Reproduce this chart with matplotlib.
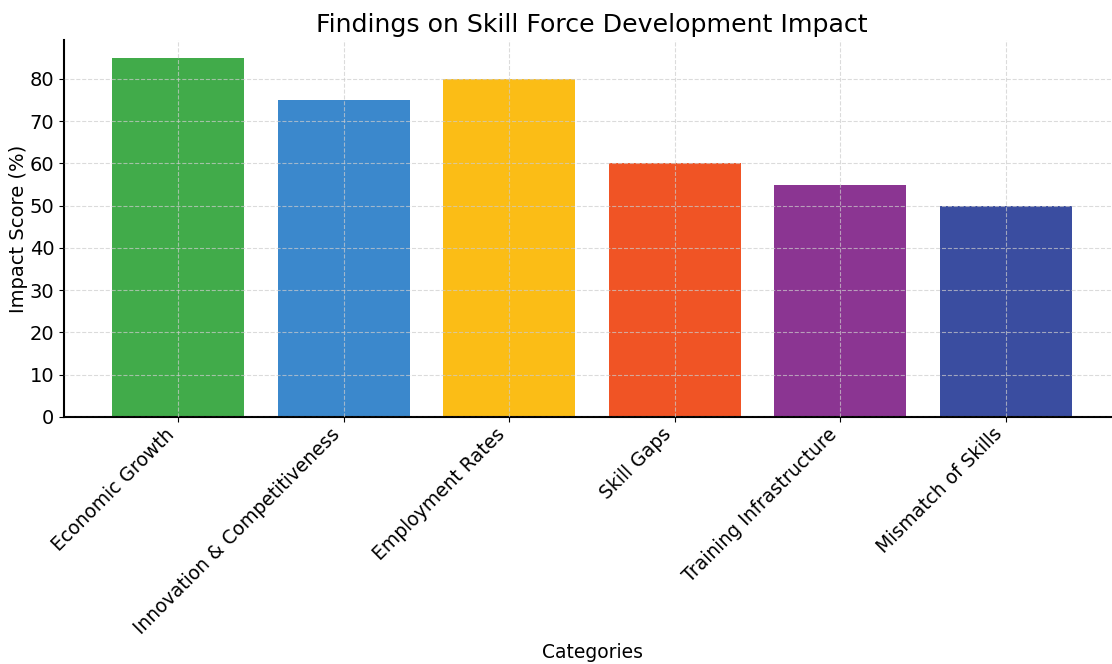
import matplotlib
matplotlib.use("Agg")
import matplotlib.pyplot as plt

categories = ["Economic Growth", "Innovation & Competitiveness", "Employment Rates",
              "Skill Gaps", "Training Infrastructure", "Mismatch of Skills"]
values = [85, 75, 80, 60, 55, 50]
colors = ["#41AB4A", "#3B88CC", "#FBBD16", "#F05425", "#8B3592", "#3A4DA0"]

fig = plt.figure(figsize=(11.12, 6.64), dpi=100)
ax = fig.add_axes([0.0576, 0.372, 0.9496, 0.568])
ax.bar(range(len(categories)), values, color=colors, width=0.8, zorder=1)
ax.set_xticks(range(len(categories)))
ax.set_xticklabels(categories, rotation=45, ha="right", rotation_mode="default", fontsize=13.5)
ax.tick_params(axis="x", pad=2)
ax.tick_params(axis="y", labelsize=14)
ax.set_title("Findings on Skill Force Development Impact", fontsize=18.2, pad=6)
ax.set_xlabel("Categories", fontsize=13.5, labelpad=4)
ax.set_ylabel("Impact Score (%)", fontsize=14, labelpad=1)
ax.grid(True, linestyle="--", linewidth=0.8, color="#cccccc", alpha=0.7, zorder=2)
ax.set_axisbelow(False)
for s in ["top", "right"]:
    ax.spines[s].set_visible(False)
ax.spines["left"].set_linewidth(1.5)
ax.spines["bottom"].set_linewidth(1.5)
ax.set_ylim(0, 89.25)
ax.set_yticks(range(0, 81, 10))
fig.savefig("out.png", dpi=100)
